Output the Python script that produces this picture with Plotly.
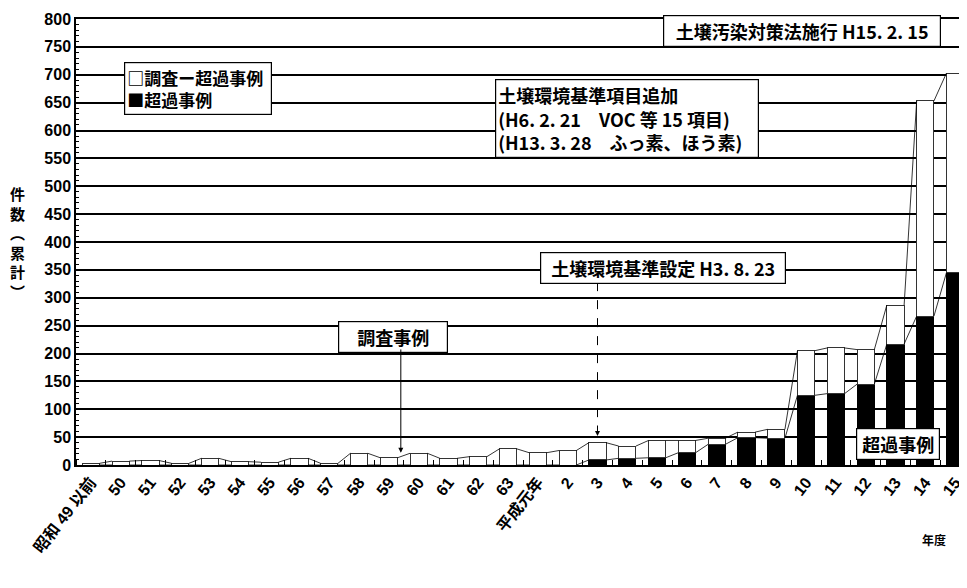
import plotly.graph_objects as go

categories = ['昭和 49 以前', '50', '51', '52', '53', '54', '55', '56', '57', '58', '59', '60',
              '61', '62', '63', '平成元年', '2', '3', '4', '5', '6', '7', '8', '9',
              '10', '11', '12', '13', '14', '15']
# cumulative totals (調査事例) and exceedances (超過事例)
total_cases = [3, 7, 8, 3, 12, 6, 5, 12, 3, 21, 13, 21, 12, 15, 29, 22, 26,
               40, 34, 44, 44, 48, 59, 64, 205, 210, 207, 287, 653, 703]
exceed_cases = [0, 0, 0, 0, 0, 0, 0, 0, 0, 0, 0, 0, 0, 0, 0, 0, 0,
                9, 12, 13, 22, 37, 49, 48, 125, 128, 145, 217, 267, 345]
yticks = list(range(0, 801, 50))

survey_minus = [t - e for t, e in zip(total_cases, exceed_cases)]
xs = list(range(len(categories)))
W = 0.58

FONT = "Liberation Sans, Arial, Noto Sans CJK JP, sans-serif"
CJK = "Noto Sans CJK JP, sans-serif"

fig = go.Figure()
fig.add_trace(go.Bar(x=xs, y=exceed_cases, width=W, name='超過事例',
                     marker=dict(color='black', line=dict(color='black', width=1)),
                     showlegend=False))
fig.add_trace(go.Bar(x=xs, y=survey_minus, width=W, name='調査ー超過事例',
                     marker=dict(color='white', line=dict(color='#333', width=1)),
                     showlegend=False))


def series_line(tops):
    lx, ly = [], []
    for i in range(len(tops) - 1):
        lx += [xs[i] + W / 2, xs[i + 1] - W / 2, None]
        ly += [tops[i], tops[i + 1], None]
    return lx, ly


for tops in (exceed_cases, total_cases):
    lx, ly = series_line(tops)
    fig.add_trace(go.Scatter(x=lx, y=ly, mode='lines', line=dict(color='black', width=0.8),
                             showlegend=False, hoverinfo='skip'))

box = dict(bordercolor='black', borderwidth=1.2, bgcolor='white', borderpad=2,
           font=dict(family=CJK, size=18, color='black', weight='bold'))

annos = [
    dict(x=3.6, y=675, text='□調査ー超過事例<br>■超過事例', showarrow=False, align='left',
         width=142, **{**box, 'font': dict(family=CJK, size=17, color='black', weight='bold')}),
    dict(x=23.85, y=778, text='土壌汚染対策法施行 H15. 2. 15', showarrow=False, width=272, **box),
    dict(x=17.98, y=622, text='土壌環境基準項目追加<br>(H6. 2. 21　VOC 等 15 項目)<br>(H13. 3. 28　ふっ素、ほう素)',
         showarrow=False, align='left', width=258, **box),
    dict(x=19.2, y=353, text='土壌環境基準設定 H3. 8. 23', showarrow=False, width=240, **box),
    dict(x=10.15, y=230, text='調査事例', showarrow=False, width=104, **box),
    dict(x=27.1, y=38, text='超過事例', showarrow=False, width=78, **box),
]
# arrows
annos.append(dict(x=10.4, y=22, ax=10.4, ay=210, axref='x', ayref='y', text='', showarrow=True,
                  arrowhead=2, arrowsize=1, arrowwidth=1, arrowcolor='black'))
annos.append(dict(x=17, y=52, ax=0, ay=-12, text='', showarrow=True,
                  arrowhead=2, arrowsize=1, arrowwidth=1, arrowcolor='black'))
annos.append(dict(xref='paper', yref='paper', x=-0.076, y=0.5, text='件<br>数<br>︵<br>累<br>計<br>︶',
                  showarrow=False, font=dict(family=CJK, size=15, color='black', weight='bold')))
annos.append(dict(xref='paper', yref='paper', x=0.975, y=-0.19, text='年度',
                  showarrow=False, font=dict(family=CJK, size=12, color='black', weight='bold')))
fig.update_layout(annotations=annos)

fig.add_shape(type='line', x0=17, x1=17, y0=328, y1=60, xref='x', yref='y',
              line=dict(color='black', width=1, dash='dash'))

fig.update_layout(
    width=967, height=588,
    margin=dict(l=68, r=3, t=11, b=131),
    paper_bgcolor='white', plot_bgcolor='white',
    barmode='stack', bargap=0.42,
    showlegend=False,
    xaxis=dict(range=[-0.5, 29.5], tickmode='array', tickvals=xs, ticktext=categories,
               tickangle=-52, ticks='', showgrid=False, showline=True, linecolor='black',
               linewidth=1.5, mirror=True, zeroline=False,
               tickfont=dict(family=FONT, size=16, color='black', weight='bold'),
               minor=dict(tickmode='array', tickvals=[i - 0.5 for i in xs] + [29.5],
                          ticks='inside', ticklen=5, tickcolor='black', showgrid=False)),
    yaxis=dict(range=[0, 800], tickmode='array', tickvals=yticks, ticks='inside', ticklen=6,
               tickcolor='black', showgrid=True, gridcolor='black', gridwidth=1.5,
               showline=True, linecolor='black', linewidth=1.5, mirror=True, zeroline=False,
               tickfont=dict(family=FONT, size=16, color='black', weight='bold'),
               minor=dict(dtick=10, ticks='inside', ticklen=3, tickcolor='black', showgrid=False)),
)

fig.write_html('out.html')
